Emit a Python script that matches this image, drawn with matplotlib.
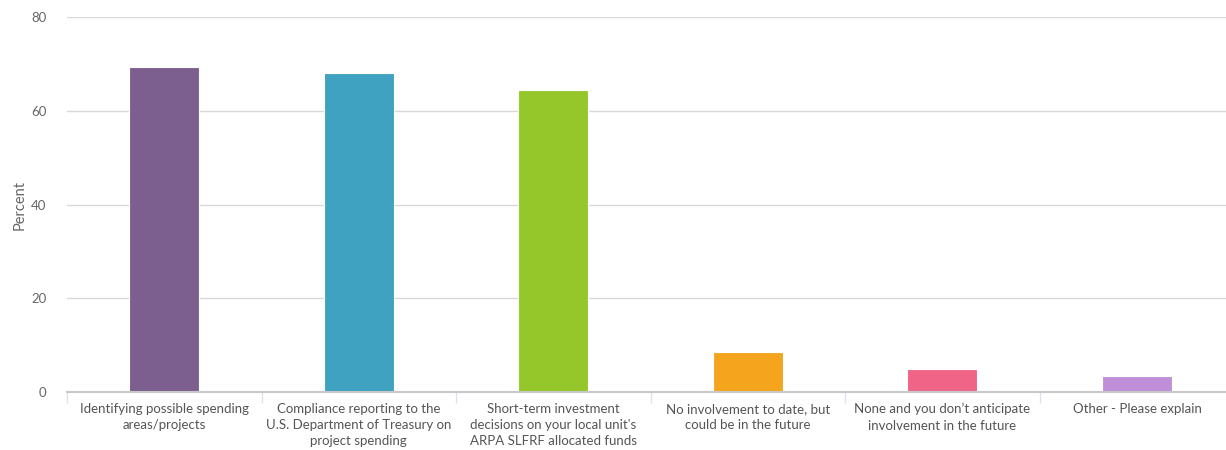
import matplotlib.pyplot as plt
from matplotlib.ticker import FixedLocator

categories = [
    "Identifying possible spending\nareas/projects",
    "Compliance reporting to the\nU.S. Department of Treasury on\nproject spending",
    "Short-term investment\ndecisions on your local unit's\nARPA SLFRF allocated funds",
    "No involvement to date, but\ncould be in the future",
    "None and you don\u2019t anticipate\ninvolvement in the future",
    "Other - Please explain",
]
percent = [69.3, 68.0, 64.4, 8.5, 4.8, 3.4]
colors = ["#7c5f8e", "#3fa2c1", "#95c72a", "#f5a51d", "#f06487", "#bf90d9"]
y_ticks = [0, 20, 40, 60, 80]

plt.rcParams["font.family"] = ["Lato", "DejaVu Sans"]

fig = plt.figure(figsize=(12.26, 4.5), dpi=100)
ax = fig.add_axes([0.0547, 0.129, 0.952, 0.833])

x = list(range(len(categories)))
ax.bar(x, percent, width=0.36, color=colors, edgecolor="#ffffff", linewidth=0.8, zorder=3)

ax.set_xlim(-0.5, len(categories) - 0.5)
ax.set_ylim(0, 80)
ax.set_yticks(y_ticks)
ax.yaxis.grid(True, color="#d8d8d8", linewidth=1, zorder=0)
ax.set_axisbelow(True)

for side in ["top", "right", "left"]:
    ax.spines[side].set_visible(False)
ax.spines["bottom"].set_color("#c8c8c8")
ax.spines["bottom"].set_linewidth(1.5)
ax.spines["bottom"].set_zorder(4)

ax.tick_params(axis="y", length=0, labelsize=9.5, labelcolor="#666666", pad=15)

# category labels centered, boundary ticks between categories
ax.set_xticks(x)
ax.set_xticklabels(categories, fontsize=9.5, color="#555555", linespacing=1.42)
ax.tick_params(axis="x", length=0, pad=8)
ax.xaxis.set_minor_locator(FixedLocator([i - 0.5 for i in range(len(categories) + 1)]))
ax.tick_params(axis="x", which="minor", length=8, color="#dde3ee", width=1)

ax.set_ylabel("Percent", fontsize=10.5, color="#666666", labelpad=3)

fig.savefig("out.png", dpi=100, facecolor="white")
